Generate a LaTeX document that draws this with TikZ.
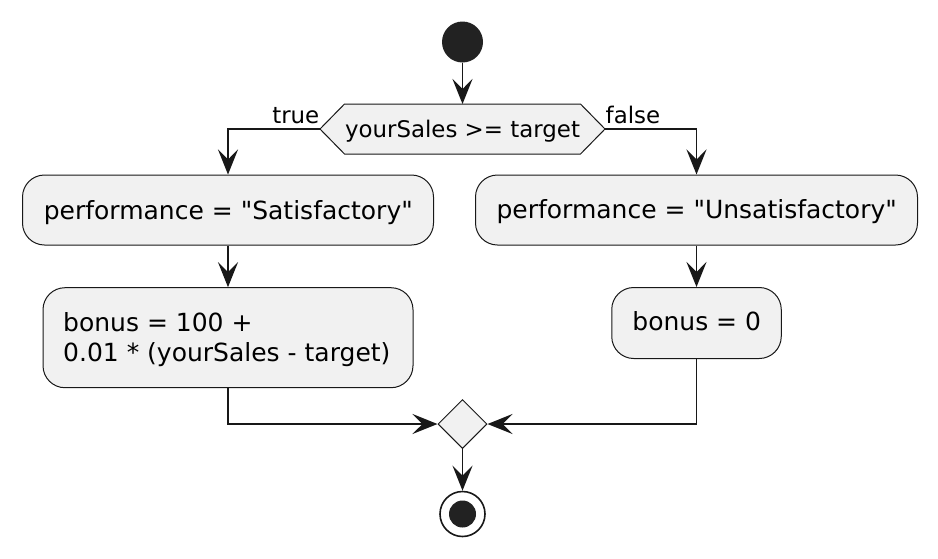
\documentclass[tikz,border=0pt]{standalone}
\usepackage{fontspec}
\setmainfont{DejaVu Sans}[Ligatures=TeXOff]
\usetikzlibrary{arrows.meta,shapes.geometric}
\definecolor{pfill}{HTML}{F1F1F1}
\definecolor{pline}{HTML}{181818}
\definecolor{pdot}{HTML}{222222}
\begin{document}
\begin{tikzpicture}[x=1pt,y=-1pt,
  actbox/.style={draw=pline, fill=pfill, line width=1pt, rounded corners=22pt, inner sep=0pt},
  flow/.style={draw=pline, line width=1.6pt, -{Stealth[length=25pt,width=20pt,inset=10pt]}},
  boxtext/.style={font=\fontsize{25}{30}\selectfont, inner sep=0pt, text=black},
  lbltext/.style={font=\fontsize{22.9}{27}\selectfont, inner sep=0pt, text=black}]
\useasboundingbox (0,0) rectangle (938,558);
\fill[white] (0,0) rectangle (938,558);

% start
\node[circle, fill=pdot, minimum size=41pt, inner sep=0pt] (start) at (462.5,42) {};

% decision hexagon
\draw[fill=pfill, draw=pline, line width=1pt] (320,129) -- (344.5,104) -- (580.5,104) -- (605,129) -- (580.5,154) -- (344.5,154) -- cycle;
\node[minimum width=285pt, minimum height=50pt, inner sep=0pt, outer sep=0pt] (hex) at (462.5,129) {};
\node[lbltext, anchor=base] (hextxt) at (462.5,137.3) {yourSales >= target};

% activity boxes
\node[actbox, minimum width=411pt, minimum height=70pt] (pL) at (228,210) {};
\node[actbox, minimum width=442pt, minimum height=70pt] (pR) at (696.5,210) {};
\node[actbox, minimum width=370pt, minimum height=100pt] (bL) at (228,337.7) {};
\node[actbox, minimum width=169.5pt, minimum height=71pt] (bR) at (696.5,323) {};

\node[boxtext, anchor=base] (pLtxt) at (228.3,219.3) {performance = "Satisfactory"};
\node[boxtext, anchor=base] (pRtxt) at (696.7,218.8) {performance = "Unsatisfactory"};
\node[boxtext, anchor=base west] (bLtxt1) at (63,331.7) {bonus = 100 +};
\node[boxtext, anchor=base west] (bLtxt2) at (63,361.7) {0.01 * (yourSales - target)};
\node[boxtext, anchor=base] (bRtxt) at (696.7,330.7) {bonus = 0};

% merge
\node[diamond, aspect=1, minimum size=49pt, inner sep=0pt, draw=pline, fill=pfill, line width=1pt] (merge) at (462.5,424) {};

% end
\node[circle, draw=pline, line width=1.6pt, fill=white, minimum size=45pt, inner sep=0pt] (end) at (462.5,514) {};
\fill[pdot] (end.center) circle (13.5);

% labels
\node[lbltext, anchor=base east] (tT) at (319.5,123.3) {true};
\node[lbltext, anchor=base west] (tF) at (605.5,123.3) {false};

% connectors
\draw[flow] (start.south) -- (hex.north);
\draw[flow] (hex.west) -| (pL.north);
\draw[flow] (hex.east) -| (pR.north);
\draw[flow] (pL.south) -- (bL.north);
\draw[flow] (pR.south) -- (bR.north);
\draw[flow] (bL.south) |- (merge.west);
\draw[flow] (bR.south) |- (merge.east);
\draw[flow] (merge.south) -- (end.north);
\end{tikzpicture}
\end{document}
